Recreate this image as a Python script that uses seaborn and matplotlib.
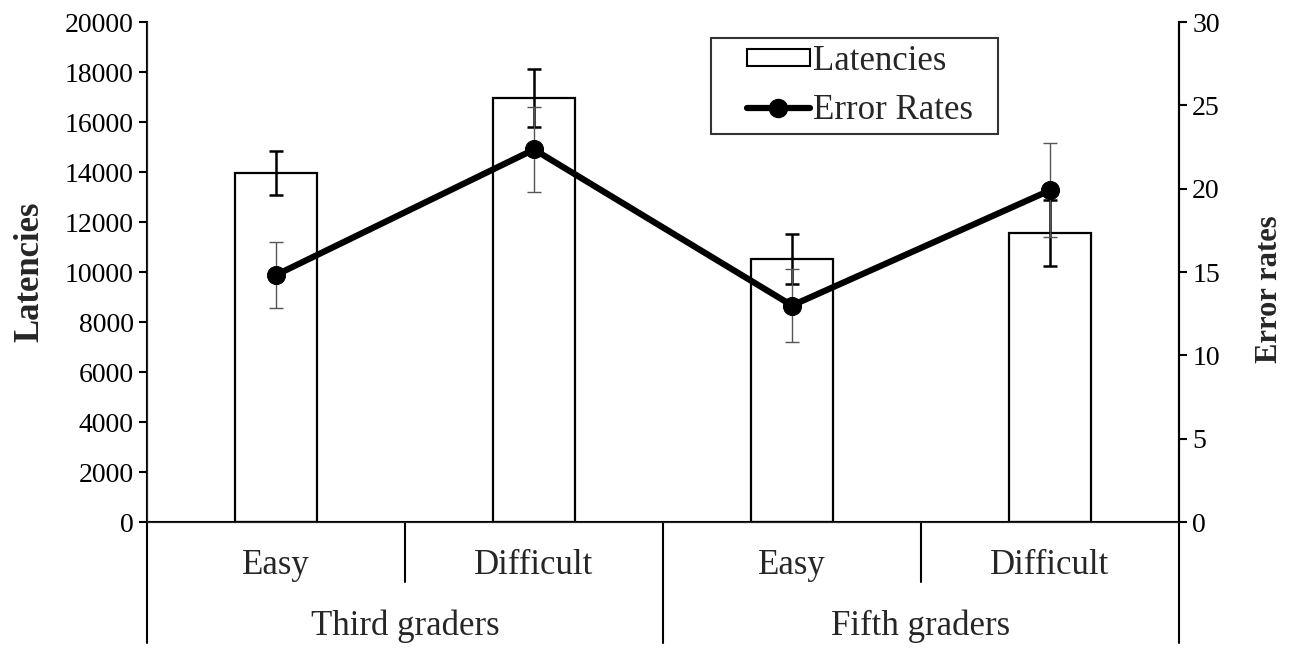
import numpy as np
import pandas as pd
import seaborn as sns
import matplotlib.pyplot as plt
from matplotlib.lines import Line2D
from matplotlib.patches import Patch
from matplotlib.legend_handler import HandlerPatch, HandlerLine2D

# data
conditions = ['Easy', 'Difficult', 'Easy', 'Difficult']
groups = ['Third graders', 'Fifth graders']
latencies = [13960, 16960, 10510, 11580]
latency_err = [890, 1160, 995, 1320]
error_rates = [14.82, 22.35, 12.99, 19.9]
error_rate_err = [1.96, 2.53, 2.19, 2.82]

df = pd.DataFrame({'pos': np.arange(len(conditions)), 'cond': conditions,
                   'lat': latencies, 'err': error_rates})

sns.set_style('ticks')
plt.rcParams['font.family'] = ['Liberation Serif', 'DejaVu Serif']

fig = plt.figure(figsize=(12.99, 6.51), dpi=100)
ax = fig.add_axes([147/1299, 129/651, 1032/1299, 500/651])

sns.barplot(data=df, x='pos', y='lat', color='white', edgecolor='black',
            linewidth=1.6, width=0.32, errorbar=None, ax=ax)
ax.errorbar(df['pos'], df['lat'], yerr=latency_err, fmt='none', ecolor='black',
            elinewidth=1.8, capsize=5, capthick=1.8, zorder=5)

ax.set_xlim(-0.5, 3.5)
ax.set_ylim(0, 20000)
ax.set_yticks(range(0, 20001, 2000))
ax.set_xticks(df['pos'])
ax.set_xticklabels([])
ax.tick_params(axis='x', length=0)
ax.tick_params(axis='y', labelsize=20, length=6, width=1.5, direction='out', colors='black')
for s in ['left', 'bottom', 'right']:
    ax.spines[s].set_linewidth(1.5)
    ax.spines[s].set_color('black')
ax.spines['top'].set_visible(False)
ax.set_xlabel('')
ax.set_ylabel('Latencies', fontsize=25, fontweight='bold', labelpad=13)

ax2 = ax.twinx()
ax2.errorbar(df['pos'], df['err'], yerr=error_rate_err, fmt='none', ecolor='#555555',
             elinewidth=1.0, capsize=5, capthick=1.0, zorder=2)
sns.lineplot(data=df, x='pos', y='err', color='black', linewidth=4.5, marker='o',
             markersize=13, markeredgecolor='black', ax=ax2, zorder=3)
ax2.set_ylim(0, 30)
ax2.set_yticks(range(0, 31, 5))
ax2.tick_params(axis='y', labelsize=20, length=6, width=1.5, direction='out', colors='black')
ax2.spines['top'].set_visible(False)
ax2.spines['right'].set_linewidth(1.5)
ax2.spines['right'].set_color('black')
ax2.set_xlabel('')
ax2.set_ylabel('Error rates', fontsize=22, fontweight='bold')
ax2.yaxis.set_label_coords(1.074, 0.466)

# hierarchical category axis
tr = ax.get_xaxis_transform()
for x, ylow in [(-0.5, -0.242), (0.5, -0.12), (1.5, -0.242), (2.5, -0.12), (3.5, -0.242)]:
    ax.plot([x, x], [0, ylow], color='black', lw=1.5, transform=tr, clip_on=False)
for x, c in zip(df['pos'], conditions):
    ax.text(x, -0.104, c, transform=tr, ha='center', va='baseline', fontsize=25)
for x, g in zip([0.5, 2.5], groups):
    ax.text(x, -0.226, g, transform=tr, ha='center', va='baseline', fontsize=25)

handles = [Patch(facecolor='white', edgecolor='black', linewidth=1.5),
           Line2D([], [], color='black', lw=4.5, marker='o', markersize=13)]
leg = ax2.legend(handles, ['Latencies', 'Error Rates  '], loc='upper left',
                 bbox_to_anchor=(0.5465, 0.968), fontsize=25, frameon=True,
                 fancybox=False, edgecolor='black', handlelength=2.65,
                 handleheight=0.4, handletextpad=0.09, labelspacing=0.46,
                 borderpad=0.2, borderaxespad=0,
                 handler_map={Patch: HandlerPatch(xpad=0.83),
                              Line2D: HandlerLine2D(xpad=0.83)})
leg.get_frame().set_linewidth(1.5)

fig.savefig('out.png', dpi=100, facecolor='white')
